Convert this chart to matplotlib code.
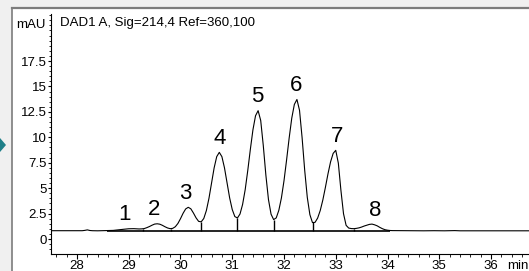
import numpy as np
import matplotlib
matplotlib.use("Agg")
import matplotlib.pyplot as plt
from matplotlib.lines import Line2D
from matplotlib.patches import Polygon, Rectangle
from matplotlib.ticker import MultipleLocator

plt.rcParams['font.family'] = ['Liberation Sans', 'DejaVu Sans']

# chromatogram trace (min, mAU)
time = [27.50, 27.70, 27.90, 28.00, 28.10, 28.15, 28.20, 28.25, 28.30, 28.40,
        28.50, 28.60, 28.70, 28.80, 28.85, 28.90, 28.95, 29.00, 29.05, 29.10,
        29.15, 29.20, 29.25, 29.30, 29.35, 29.40, 29.45, 29.50, 29.55, 29.60,
        29.65, 29.70, 29.75, 29.80, 29.85, 29.90, 29.95, 30.00, 30.05, 30.10,
        30.15, 30.20, 30.25, 30.30, 30.35, 30.40, 30.45, 30.50, 30.55, 30.60,
        30.65, 30.70, 30.75, 30.80, 30.85, 30.90, 30.95, 31.00, 31.05, 31.10,
        31.15, 31.20, 31.25, 31.30, 31.35, 31.40, 31.45, 31.50, 31.55, 31.60,
        31.65, 31.70, 31.75, 31.80, 31.85, 31.90, 31.95, 32.00, 32.05, 32.10,
        32.15, 32.20, 32.25, 32.30, 32.35, 32.40, 32.45, 32.50, 32.55, 32.60,
        32.65, 32.70, 32.75, 32.80, 32.85, 32.90, 32.95, 33.00, 33.05, 33.10,
        33.15, 33.20, 33.25, 33.30, 33.35, 33.40, 33.45, 33.50, 33.55, 33.60,
        33.65, 33.70, 33.75, 33.80, 33.85, 33.90, 33.95, 34.00, 34.05, 34.10,
        34.30, 34.50, 34.70, 34.90, 35.10, 35.30, 35.40, 35.60, 35.80, 36.00,
        36.20, 36.40, 36.60, 36.75]
signal = [0.82, 0.82, 0.83, 0.82, 0.82, 0.85, 0.90, 0.84, 0.82, 0.81,
          0.82, 0.83, 0.85, 0.90, 0.93, 0.96, 0.99, 1.01, 1.02, 1.02,
          1.00, 0.99, 1.00, 1.03, 1.12, 1.23, 1.36, 1.47, 1.50, 1.46,
          1.35, 1.21, 1.09, 1.02, 1.05, 1.21, 1.53, 2.00, 2.53, 2.96,
          3.12, 2.97, 2.56, 2.09, 1.74, 1.69, 2.02, 2.80, 4.00, 5.50,
          6.99, 8.10, 8.52, 8.10, 7.00, 5.51, 4.04, 2.90, 2.21, 2.07,
          2.46, 3.40, 4.85, 6.74, 8.82, 10.74, 12.12, 12.62, 11.65, 9.18,
          6.27, 3.88, 2.44, 1.91, 2.08, 2.82, 4.04, 5.73, 7.77, 9.94,
          11.88, 13.23, 13.72, 12.65, 9.95, 6.76, 4.10, 2.40, 1.62, 1.64,
          2.06, 2.80, 3.83, 5.08, 6.41, 7.59, 8.42, 8.72, 7.46, 4.78,
          2.49, 1.35, 1.08, 1.03, 1.02, 1.05, 1.10, 1.18, 1.28, 1.36,
          1.44, 1.47, 1.40, 1.30, 1.15, 1.02, 0.92, 0.87, 0.84, 0.83,
          0.82, 0.82, 0.81, 0.82, 0.81, 0.83, 0.81, 0.81, 0.81, 0.81,
          0.81, 0.80, 0.81, 0.81]

peak_names = ['1', '2', '3', '4', '5', '6', '7', '8']
peak_rt = [29.05, 29.55, 30.15, 30.75, 31.50, 32.25, 33.00, 33.70]
label_x = [28.92, 29.49, 30.09, 30.76, 31.49, 32.24, 33.02, 33.76]
drop_rt = [29.27, 29.82, 30.40, 31.10, 31.80, 32.57, 33.35]
base_level = 0.82
base_start, base_end = 28.58, 34.05

ytick_vals = [0, 2.5, 5, 7.5, 10, 12.5, 15, 17.5]
ytick_text = ['0', '2.5', '5', '7.5', '10', '12.5', '15', '17.5']
xtick_vals = [28, 29, 30, 31, 32, 33, 34, 35, 36]

W, H = 529, 271


def fx(px):
    return px / W


def fy(py):
    return 1 - py / H


fig = plt.figure(figsize=(W / 100, H / 100), dpi=100, facecolor='#f0f0f0')

# white panel with grey border on top and left
fig.patches.append(Rectangle((fx(12), 0), 1, fy(8), transform=fig.transFigure,
                             facecolor='white', edgecolor='none', zorder=-5))
fig.lines.append(Line2D([fx(12), 1], [fy(8), fy(8)], transform=fig.transFigure,
                        color='#7c7c7c', lw=1.6, zorder=-4))
fig.lines.append(Line2D([fx(12), fx(12)], [0, fy(8)], transform=fig.transFigure,
                        color='#7c7c7c', lw=1.2, zorder=-4))
# teal marker cut by the left edge
fig.patches.append(Polygon([(fx(-6), fy(145)), (0, fy(138)), (fx(6), fy(145)), (0, fy(152))],
                           closed=True, transform=fig.transFigure,
                           facecolor='#1f7f88', edgecolor='none', zorder=-4))

ax = fig.add_axes([fx(51), fy(254), 1 - fx(51), fy(14) - fy(254)])
ax.set_facecolor('none')

ax.plot(time, signal, color='black', lw=0.8)
ax.hlines(base_level, base_start, base_end, color='black', lw=1.2)
drop_top = np.interp(drop_rt, time, signal)
ax.vlines(drop_rt, base_level - 0.05, drop_top, color='black', lw=1.0)

apex = np.interp(peak_rt, time, signal)
for name, x, y in zip(peak_names, label_x, apex):
    ax.annotate(name, (x, y), xytext=(0, 6), textcoords='offset points',
                ha='center', va='baseline', fontsize=16)

ax.set_xlim(27.498, 36.734)
ax.set_ylim(-1.47, 22.12)
for side in ['top', 'right']:
    ax.spines[side].set_visible(False)
ax.spines['left'].set_linewidth(0.8)
ax.spines['bottom'].set_linewidth(0.8)

ax.xaxis.set_minor_locator(MultipleLocator(0.2))
ax.yaxis.set_minor_locator(MultipleLocator(0.5))
ax.set_yticks(ytick_vals)
ax.set_yticklabels(ytick_text)
ax.set_xticks(xtick_vals)
ax.tick_params(axis='both', which='major', labelsize=9.5, width=0.8)
ax.tick_params(axis='x', which='major', length=3.5, pad=1)
ax.tick_params(axis='y', which='major', length=2.5, pad=0.5)
ax.tick_params(axis='both', which='minor', length=1.8, width=0.6)

ax.text(0.998, -0.05, 'min', transform=ax.transAxes, ha='right', va='center',
        fontsize=9.5, clip_on=False)
fig.text(fx(46), fy(25), 'mAU', ha='right', va='center', fontsize=9.5)
fig.text(fx(60), fy(23), 'DAD1 A, Sig=214,4 Ref=360,100', ha='left', va='center',
         fontsize=9.5)

fig.savefig('out.png', dpi=100, facecolor=fig.get_facecolor())
